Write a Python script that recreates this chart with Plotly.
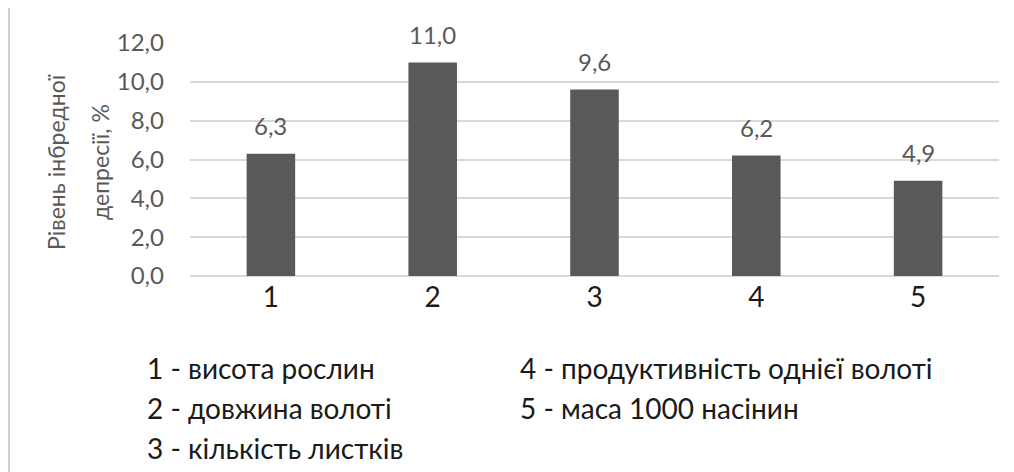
import plotly.graph_objects as go

# Inbreeding depression by trait
categories = ["1", "2", "3", "4", "5"]
values = [6.3, 11.0, 9.6, 6.2, 4.9]
trait_names = [
    "1 - висота рослин",
    "2 - довжина волоті",
    "3 - кількість листків",
    "4 - продуктивність однієї волоті",
    "5 - маса 1000 насінин",
]
y_title_lines = ["Рівень інбредної", "депресії, %"]
y_ticks = [0, 2, 4, 6, 8, 10, 12]

W, H = 1014, 472
L, R, T, B = 190, 15, 43, 196
pw, ph = W - L - R, H - T - B

FONT = "Lato, 'Open Sans', sans-serif"
GREY = "#595959"
DARK = "#1a1a1a"

fig = go.Figure(
    go.Bar(
        x=categories,
        y=values,
        marker=dict(color="#595959", line=dict(width=0)),
        cliponaxis=False,
    )
)


def px_x(p):
    return (p - L) / pw


def px_y(p):
    return (H - B - p) / ph


annotations = []
# value labels above each bar (category axis: x is the category index)
for i, v in enumerate(values):
    annotations.append(
        dict(
            x=i, y=v, xref="x", yref="y", text=f"{v:.1f}".replace(".", ","),
            showarrow=False, yanchor="middle", yshift=28,
            font=dict(size=24, color=GREY, family=FONT),
        )
    )

# rotated two-line axis title
for line, lx in zip(y_title_lines, (56, 100)):
    annotations.append(
        dict(
            text=line, x=px_x(lx), y=px_y(162), xref="paper", yref="paper",
            textangle=-90, showarrow=False,
            font=dict(size=23, color=GREY, family=FONT),
            xanchor="center", yanchor="middle",
        )
    )

# trait key below the axis
legend_pos = [(145, 368), (145, 408), (145, 448), (518, 368), (518, 408)]
for name, (lx, ly) in zip(trait_names, legend_pos):
    annotations.append(
        dict(
            text=name, x=px_x(lx), y=px_y(ly), xref="paper", yref="paper",
            showarrow=False, xanchor="left", yanchor="middle",
            font=dict(size=28, color=DARK, family=FONT),
        )
    )

fig.update_layout(
    width=W,
    height=H,
    margin=dict(l=L, r=R, t=T, b=B),
    paper_bgcolor="white",
    plot_bgcolor="white",
    separators=", ",
    showlegend=False,
    bargap=0.7,
    annotations=annotations,
    shapes=[
        dict(type="line", xref="paper", yref="paper",
             x0=px_x(9), x1=px_x(9), y0=px_y(8), y1=px_y(472),
             line=dict(color="#d0d0d0", width=2)),
    ],
    xaxis=dict(
        type="category",
        showgrid=False,
        showline=False,
        ticks="",
        tickfont=dict(size=28, color=DARK, family=FONT),
        ticklabelstandoff=2,
    ),
    yaxis=dict(
        range=[0, 12],
        tickvals=y_ticks,
        tickformat=".1f",
        showgrid=True,
        gridcolor="#d9d9d9",
        gridwidth=1.5,
        zeroline=True,
        zerolinecolor="#d9d9d9",
        zerolinewidth=1.5,
        showline=False,
        ticks="",
        tickfont=dict(size=24, color=GREY, family=FONT),
        ticklabelstandoff=25,
    ),
)

fig.write_html("out.html")
